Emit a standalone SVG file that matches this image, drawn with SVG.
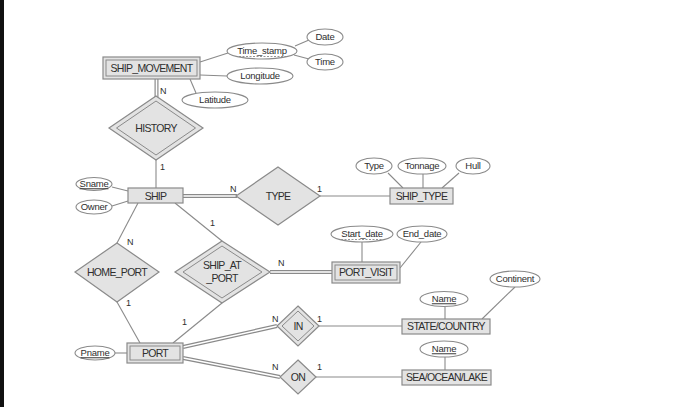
<svg xmlns="http://www.w3.org/2000/svg" width="700" height="407" viewBox="0 0 700 407">
<style>
.ent{fill:#e3e3e3;stroke:#8a8a8a;stroke-width:1.2}
.inner{fill:none;stroke:#8a8a8a;stroke-width:1}
.rel{fill:#e3e3e3;stroke:#8a8a8a;stroke-width:1.2}
.att{fill:#fff;stroke:#8a8a8a;stroke-width:1.1}
.ln{fill:none;stroke:#8a8a8a;stroke-width:1.1}
.dbo{fill:none;stroke:#8a8a8a;stroke-width:4}
.dbi{fill:none;stroke:#fff;stroke-width:1.6}
text{font-family:"Liberation Sans",Arial,sans-serif;fill:#2e2e2e;text-anchor:middle}
.et{font-size:10.5px;letter-spacing:-0.7px}
.rt{font-size:10.5px;letter-spacing:-0.7px}
.at{font-size:9.5px;letter-spacing:-0.25px}
.cd{font-size:9px;text-anchor:start}
.u{text-decoration:underline}
.dash{stroke:#8a8a8a;stroke-width:0.9;stroke-dasharray:2,1.5}
</style>
<rect x="0" y="0" width="700" height="407" fill="#fff"/>
<rect x="0" y="0" width="4" height="407" fill="#111"/>

<g id="connectors">
<line class="ln" x1="200" y1="62" x2="228" y2="53"/>
<line class="ln" x1="295" y1="46" x2="309" y2="40"/>
<line class="ln" x1="294" y1="55" x2="309" y2="59"/>
<line class="ln" x1="200" y1="75" x2="227" y2="76"/>
<line class="ln" x1="190" y1="79" x2="196" y2="93"/>
<path class="dbo" d="M156.5 79 V97"/><path class="dbi" d="M156.5 78 V98"/>
<line class="ln" x1="156" y1="160" x2="156" y2="188"/>
<line class="ln" x1="112" y1="187" x2="128" y2="191"/>
<line class="ln" x1="112" y1="206" x2="128" y2="201"/>
<path class="dbo" d="M183 196 H237"/><path class="dbi" d="M182 196 H238"/>
<line class="ln" x1="320" y1="196" x2="390" y2="196"/>
<line class="ln" x1="388" y1="173" x2="403" y2="188"/>
<line class="ln" x1="423" y1="174" x2="423" y2="188"/>
<line class="ln" x1="459" y1="173" x2="442" y2="188"/>
<line class="ln" x1="138" y1="203" x2="117" y2="243"/>
<line class="ln" x1="175" y1="203" x2="222" y2="241"/>
<path class="dbo" d="M270 272 H332"/><path class="dbi" d="M269 272 H333"/>
<line class="ln" x1="362" y1="242" x2="362" y2="262"/>
<line class="ln" x1="421" y1="242" x2="400" y2="268"/>
<line class="ln" x1="117" y1="302" x2="140" y2="343"/>
<line class="ln" x1="222" y1="303" x2="173" y2="343"/>
<path class="dbo" d="M183 347 L277 326"/><path class="dbi" d="M182 347.2 L278 325.8"/>
<path class="dbo" d="M183 358 L280 377"/><path class="dbi" d="M182 357.8 L281 377.2"/>
<line class="ln" x1="319" y1="326" x2="402" y2="326"/>
<line class="ln" x1="445" y1="307" x2="445" y2="319"/>
<line class="ln" x1="515" y1="287" x2="482" y2="319"/>
<line class="ln" x1="316" y1="377" x2="402" y2="377"/>
<line class="ln" x1="445" y1="357" x2="445" y2="370"/>
<text class="cd" x="160" y="94">N</text>
<text class="cd" x="160" y="170">1</text>
<text class="cd" x="230" y="192">N</text>
<text class="cd" x="317" y="192">1</text>
<text class="cd" x="127" y="245">N</text>
<text class="cd" x="210" y="226">1</text>
<text class="cd" x="278" y="266">N</text>
<text class="cd" x="126" y="306">1</text>
<text class="cd" x="182" y="325">1</text>
<text class="cd" x="272" y="322">N</text>
<text class="cd" x="317" y="322">1</text>
<text class="cd" x="272" y="370">N</text>
<text class="cd" x="317" y="370">1</text>
</g>

<g id="SHIP_MOVEMENT">
<rect class="ent" x="103" y="57" width="97" height="22"/>
<rect class="inner" x="106" y="60" width="91" height="16"/>
<text class="et" x="151.5" y="71.8">SHIP_MOVEMENT</text>
</g>
<g id="Time_stamp">
<ellipse class="att" cx="262" cy="51" rx="35" ry="8"/>
<text class="at" x="262" y="54.3">Time_stamp</text>
<line class="dash" x1="239" y1="56.5" x2="286" y2="56.5"/>
</g>
<g id="Date"><ellipse class="att" cx="325" cy="37" rx="18" ry="8"/><text class="at" x="325" y="40.3">Date</text></g>
<g id="Time"><ellipse class="att" cx="325" cy="62" rx="18" ry="8"/><text class="at" x="325" y="65.3">Time</text></g>
<g id="Longitude"><ellipse class="att" cx="260" cy="76" rx="33" ry="8"/><text class="at" x="260" y="79.3">Longitude</text></g>
<g id="Latitude"><ellipse class="att" cx="215" cy="100" rx="33" ry="8"/><text class="at" x="215" y="103.3">Latitude</text></g>

<g id="HISTORY">
<polygon class="rel" points="156,96 203,128 156,160 109,128"/>
<polygon class="inner" points="156,101 195.5,128 156,155 116.5,128"/>
<text class="rt" x="156" y="131.8">HISTORY</text>
</g>

<g id="SHIP">
<rect class="ent" x="128" y="188" width="55" height="15"/>
<text class="et" x="155.5" y="199.5">SHIP</text>
</g>
<g id="Sname"><ellipse class="att" cx="94" cy="184" rx="18" ry="6.5"/><text class="at u" x="94" y="187.3">Sname</text></g>
<g id="Owner"><ellipse class="att" cx="94" cy="207" rx="18" ry="7"/><text class="at" x="94" y="210.3">Owner</text></g>

<g id="TYPE">
<polygon class="rel" points="278,167 320,196 278,225 236,196"/>
<text class="rt" x="278" y="199.8">TYPE</text>
</g>

<g id="SHIP_TYPE">
<rect class="ent" x="390" y="188" width="63" height="16"/>
<text class="et" x="421.5" y="199.8">SHIP_TYPE</text>
</g>
<g id="Type"><ellipse class="att" cx="374" cy="166" rx="18" ry="8"/><text class="at" x="374" y="169.3">Type</text></g>
<g id="Tonnage"><ellipse class="att" cx="422" cy="166" rx="24" ry="8"/><text class="at" x="422" y="169.3">Tonnage</text></g>
<g id="Hull"><ellipse class="att" cx="473" cy="166" rx="17" ry="8"/><text class="at" x="473" y="169.3">Hull</text></g>

<g id="HOME_PORT">
<polygon class="rel" points="117,243 159,272 117,302 75,272"/>
<text class="rt" x="117" y="275.8">HOME_PORT</text>
</g>

<g id="SHIP_AT_PORT">
<polygon class="rel" points="222,241 270,272 222,303 175,272"/>
<polygon class="inner" points="222,246 262,272 222,298 183,272"/>
<text class="rt" x="222" y="269">SHIP_AT</text>
<text class="rt" x="222" y="281.5">_PORT</text>
</g>

<g id="PORT_VISIT">
<rect class="ent" x="332" y="262" width="68" height="21"/>
<rect class="inner" x="335" y="265" width="62" height="15"/>
<text class="et" x="366" y="276.3">PORT_VISIT</text>
</g>
<g id="Start_date">
<ellipse class="att" cx="362" cy="234" rx="31" ry="8"/>
<text class="at" x="362" y="237.3">Start_date</text>
<line class="dash" x1="341" y1="239.5" x2="383" y2="239.5"/>
</g>
<g id="End_date"><ellipse class="att" cx="422" cy="234" rx="25" ry="8"/><text class="at" x="422" y="237.3">End_date</text></g>

<g id="PORT">
<rect class="ent" x="127" y="343" width="56" height="20"/>
<rect class="inner" x="130" y="346" width="50" height="14"/>
<text class="et" x="155" y="357">PORT</text>
</g>
<g id="Pname"><ellipse class="att" cx="95" cy="353" rx="20" ry="7"/><line class="ln" x1="115" y1="353" x2="127" y2="353"/><text class="at u" x="95" y="356.3">Pname</text></g>

<g id="IN">
<polygon class="rel" points="298,306 319,326 298,346 277,326"/>
<polygon class="inner" points="298,311 314,326 298,341 282,326"/>
<text class="rt" x="298" y="329.8">IN</text>
</g>

<g id="ON">
<polygon class="rel" points="298,360 316,377 298,394 280,377"/>
<text class="rt" x="298" y="380.8">ON</text>
</g>

<g id="STATE_COUNTRY">
<rect class="ent" x="402" y="319" width="88" height="15"/>
<text class="et" x="446" y="330.3">STATE/COUNTRY</text>
</g>
<g id="Name1"><ellipse class="att" cx="444" cy="299" rx="24" ry="7.5"/><text class="at u" x="444" y="302.3">Name</text></g>
<g id="Continent"><ellipse class="att" cx="515" cy="279" rx="25" ry="8"/><text class="at" x="515" y="282.3">Continent</text></g>

<g id="SEA_OCEAN_LAKE">
<rect class="ent" x="402" y="370" width="89" height="15"/>
<text class="et" x="446.5" y="381.3">SEA/OCEAN/LAKE</text>
</g>
<g id="Name2"><ellipse class="att" cx="444" cy="349" rx="24" ry="8"/><text class="at u" x="444" y="352.3">Name</text></g>
</svg>
